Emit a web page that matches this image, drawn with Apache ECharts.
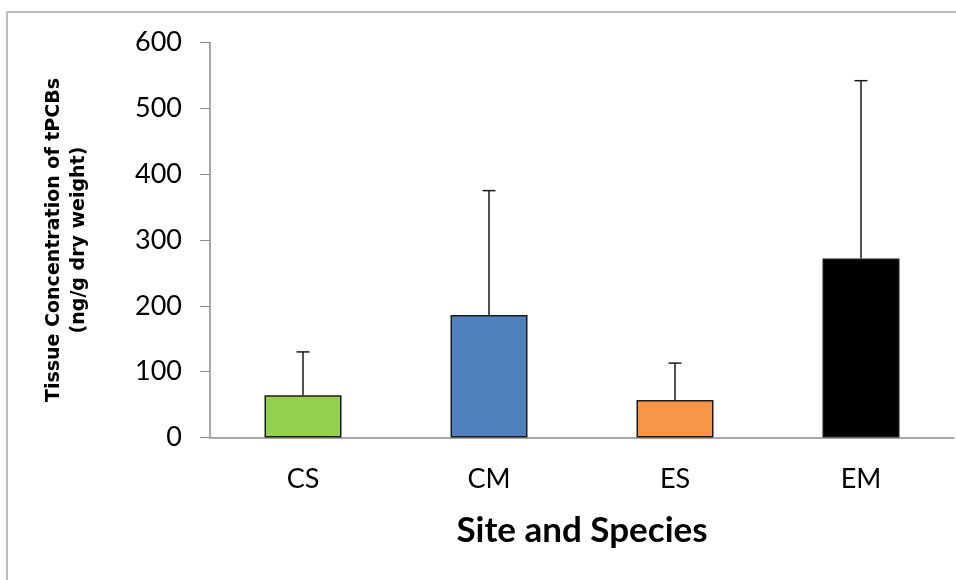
<!DOCTYPE html>
<html lang="en">
<head>
    <meta charset="UTF-8">
    <title>Tissue Concentration of tPCBs</title>
    <script src="https://cdn.jsdelivr.net/npm/echarts@6/dist/echarts.min.js"></script>
</head>
<body style="margin: 0; background: #fff">
    <div id="chart" style="width: 956px; height: 580px;"></div>
    <script>
        // data
        const categories = ['CS', 'CM', 'ES', 'EM'];
        const means = [64, 186, 57, 272];
        const errors = [66, 189, 56, 270];
        const barColors = ['#92D050', '#4F81BD', '#F79646', '#000000'];
        const yTicks = [0, 100, 200, 300, 400, 500, 600];

        const chart = echarts.init(document.getElementById('chart'));

        // frame of the chart area (only top and left edges are in view)
        const frameStyle = { stroke: '#a6a6a6', lineWidth: 1.5 };

        const option = {
            animation: false,
            graphic: [
                { type: 'line', shape: { x1: 7, y1: 12, x2: 956, y2: 12 }, style: frameStyle, z: -1 },
                { type: 'line', shape: { x1: 7, y1: 12, x2: 7, y2: 580 }, style: frameStyle, z: -1 }
            ],
            grid: { left: 210, right: 2, top: 42.5, bottom: 142.5 },
            xAxis: {
                type: 'category',
                data: categories,
                name: 'Site and Species',
                nameLocation: 'middle',
                nameGap: 76,
                nameTextStyle: { fontFamily: 'Lato', fontWeight: 'bold', fontSize: 35, color: '#000' },
                axisLine: { lineStyle: { color: '#8c8c8c', width: 1.5 } },
                axisTick: { length: 10, lineStyle: { color: '#8c8c8c' } },
                axisLabel: { fontFamily: 'Lato', fontSize: 27, color: '#000', margin: 28 },
                splitLine: { show: false }
            },
            yAxis: {
                type: 'value',
                min: yTicks[0],
                max: yTicks[yTicks.length - 1],
                interval: 100,
                name: 'Tissue Concentration of tPCBs\n(ng/g dry weight)',
                nameLocation: 'middle',
                nameRotate: 90,
                nameGap: 118,
                nameTextStyle: { fontFamily: 'DejaVu Sans', fontWeight: 'bold', fontSize: 19, color: '#000', lineHeight: 25 },
                axisLine: { show: true, lineStyle: { color: '#8c8c8c', width: 1.5 } },
                axisTick: { show: true, length: 10, lineStyle: { color: '#8c8c8c' } },
                axisLabel: { fontFamily: 'Lato', fontSize: 27, color: '#000', margin: 28 },
                splitLine: { show: false }
            },
            series: [
                {
                    type: 'bar',
                    barWidth: 77,
                    data: means.map((v, i) => ({
                        value: v,
                        itemStyle: { color: barColors[i], borderColor: '#1a1a1a', borderWidth: 1.5 }
                    })),
                    z: 2
                },
                {
                    // one-sided error bars (upper only)
                    type: 'custom',
                    data: means.map((v, i) => [i, v, v + errors[i]]),
                    renderItem: function (params, api) {
                        const base = api.coord([api.value(0), api.value(1)]);
                        const top = api.coord([api.value(0), api.value(2)]);
                        const half = 6.5;
                        const style = { stroke: '#1a1a1a', lineWidth: 1.5 };
                        return {
                            type: 'group',
                            children: [
                                { type: 'line', shape: { x1: base[0], y1: base[1], x2: top[0], y2: top[1] }, style: style },
                                { type: 'line', shape: { x1: top[0] - half, y1: top[1], x2: top[0] + half, y2: top[1] }, style: style }
                            ]
                        };
                    },
                    z: 3
                }
            ]
        };

        chart.setOption(option);
    </script>
</body>
</html>
